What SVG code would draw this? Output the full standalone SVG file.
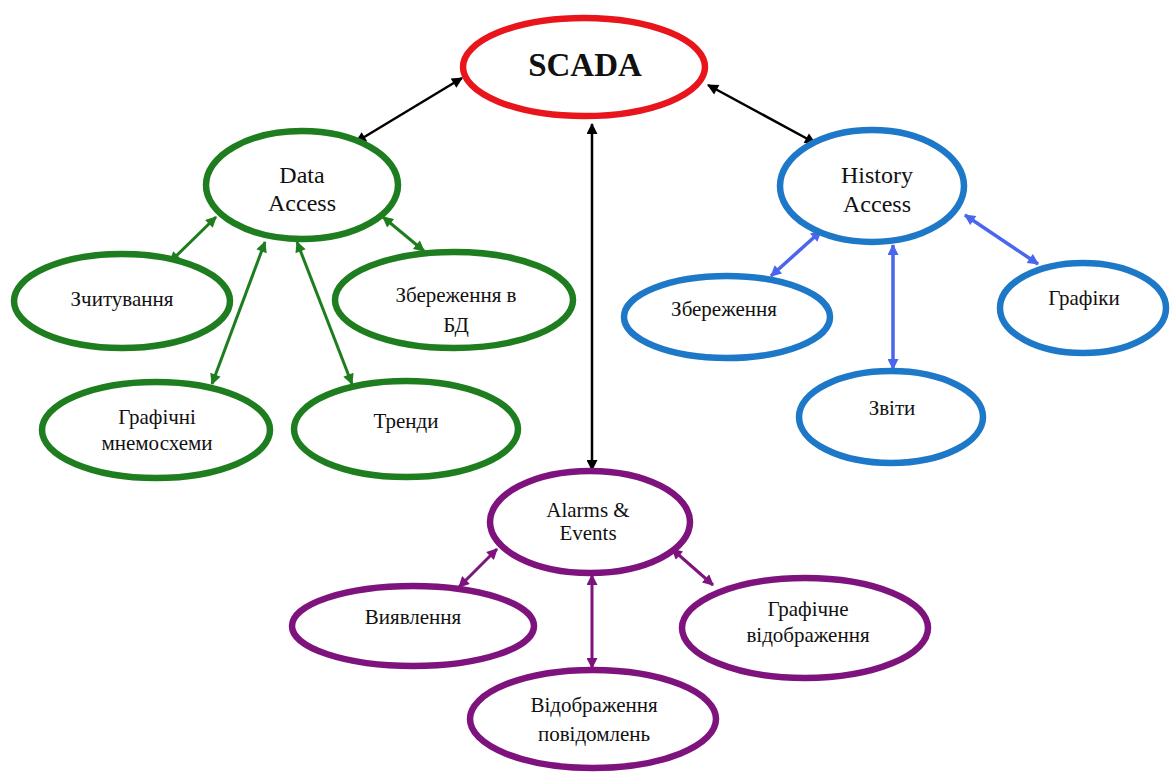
<svg xmlns="http://www.w3.org/2000/svg" width="1171" height="774" viewBox="0 0 1171 774">
<defs>
<style>
text{font-family:"Liberation Serif","Times New Roman",serif;fill:#111;text-anchor:middle}
.t{font-size:21px}
.m{font-size:24px}
.big{font-size:33px;font-weight:bold}
ellipse{fill:#fff}
.red{stroke:#e8161c;stroke-width:6.5}
.green{stroke:#1e7d1e;stroke-width:6.5}
.blue{stroke:#1e78c8;stroke-width:6.5}
.purple{stroke:#7e137e;stroke-width:6.5}
.ck{stroke:#000;stroke-width:2.5;fill:none}
.cg{stroke:#1e7d1e;stroke-width:3;fill:none}
.cb{stroke:#4a66ee;stroke-width:3.5;fill:none}
.cp{stroke:#7e137e;stroke-width:3;fill:none}
</style>
<marker id="ak" viewBox="0 0 10 10" refX="9" refY="5" markerWidth="13" markerHeight="11" markerUnits="userSpaceOnUse" orient="auto-start-reverse"><path d="M0,0L10,5L0,10z" fill="#000"/></marker>
<marker id="ag" viewBox="0 0 10 10" refX="9" refY="5" markerWidth="13" markerHeight="11" markerUnits="userSpaceOnUse" orient="auto-start-reverse"><path d="M0,0L10,5L0,10z" fill="#1e7d1e"/></marker>
<marker id="ab" viewBox="0 0 10 10" refX="9" refY="5" markerWidth="13" markerHeight="11" markerUnits="userSpaceOnUse" orient="auto-start-reverse"><path d="M0,0L10,5L0,10z" fill="#4a66ee"/></marker>
<marker id="ap" viewBox="0 0 10 10" refX="9" refY="5" markerWidth="13" markerHeight="11" markerUnits="userSpaceOnUse" orient="auto-start-reverse"><path d="M0,0L10,5L0,10z" fill="#7e137e"/></marker>
</defs>
<rect width="1171" height="774" fill="#fff"/>
<g id="connectors">
<line class="ck" x1="462" y1="78" x2="356" y2="142" marker-start="url(#ak)" marker-end="url(#ak)"/>
<line class="ck" x1="708" y1="85" x2="815" y2="143" marker-start="url(#ak)" marker-end="url(#ak)"/>
<line class="ck" x1="592" y1="124" x2="592" y2="470" marker-start="url(#ak)" marker-end="url(#ak)"/>
<line class="cg" x1="216" y1="217" x2="170" y2="262" marker-start="url(#ag)" marker-end="url(#ag)"/>
<line class="cg" x1="383" y1="217" x2="424" y2="251" marker-start="url(#ag)" marker-end="url(#ag)"/>
<line class="cg" x1="265" y1="242" x2="212" y2="384" marker-start="url(#ag)" marker-end="url(#ag)"/>
<line class="cg" x1="297" y1="242" x2="352" y2="384" marker-start="url(#ag)" marker-end="url(#ag)"/>
<line class="cb" x1="821" y1="231" x2="771" y2="276" marker-start="url(#ab)" marker-end="url(#ab)"/>
<line class="cb" x1="893" y1="245" x2="893" y2="369" marker-start="url(#ab)" marker-end="url(#ab)"/>
<line class="cb" x1="965" y1="215" x2="1038" y2="264" marker-start="url(#ab)" marker-end="url(#ab)"/>
<line class="cp" x1="497" y1="549" x2="459" y2="587" marker-start="url(#ap)" marker-end="url(#ap)"/>
<line class="cp" x1="592" y1="575" x2="592" y2="668" marker-start="url(#ap)" marker-end="url(#ap)"/>
<line class="cp" x1="672" y1="549" x2="713" y2="585" marker-start="url(#ap)" marker-end="url(#ap)"/>
</g>
<g id="scada"><ellipse class="red" cx="584" cy="67" rx="121" ry="49"/><text class="big" x="585" y="76">SCADA</text></g>
<g id="data-access"><ellipse class="green" cx="302" cy="185" rx="96" ry="54"/><text class="m" x="302" y="183">Data</text><text class="m" x="302" y="211">Access</text></g>
<g id="zchytuvannia"><ellipse class="green" cx="122" cy="301" rx="108" ry="47"/><text class="t" x="122" y="306">Зчитування</text></g>
<g id="zberezhennia-bd"><ellipse class="green" cx="454" cy="300" rx="119" ry="48"/><text class="t" x="456" y="302">Збереження  в</text><text class="t" x="456" y="332">БД</text></g>
<g id="hrafichni"><ellipse class="green" cx="156" cy="430" rx="114" ry="48"/><text class="t" x="157" y="424">Графічні</text><text class="t" x="157" y="450">мнемосхеми</text></g>
<g id="trendy"><ellipse class="green" cx="406" cy="429" rx="112" ry="48"/><text class="t" x="406" y="428">Тренди</text></g>
<g id="history-access"><ellipse class="blue" cx="872" cy="186" rx="92" ry="56"/><text class="m" x="877" y="183">History</text><text class="m" x="877" y="212">Access</text></g>
<g id="zberezhennia"><ellipse class="blue" cx="727" cy="317" rx="103" ry="41"/><text class="t" x="724" y="316">Збереження</text></g>
<g id="zvity"><ellipse class="blue" cx="891" cy="417" rx="92" ry="46"/><text class="t" x="892" y="415">Звіти</text></g>
<g id="hrafiky"><ellipse class="blue" cx="1083" cy="308" rx="83" ry="45"/><text class="t" x="1084" y="305">Графіки</text></g>
<g id="alarms-events"><ellipse class="purple" cx="590" cy="522" rx="100" ry="51"/><text class="t" x="588" y="517">Alarms &amp;</text><text class="t" x="588" y="540">Events</text></g>
<g id="vyiavlennia"><ellipse class="purple" cx="413" cy="626" rx="121" ry="40"/><text class="t" x="413" y="624">Виявлення</text></g>
<g id="hrafichne"><ellipse class="purple" cx="805" cy="628" rx="123" ry="50"/><text class="t" x="808" y="616">Графічне</text><text class="t" x="808" y="642">відображення</text></g>
<g id="vidobrazhennia"><ellipse class="purple" cx="593" cy="719" rx="123" ry="49"/><text class="t" x="594" y="712">Відображення</text><text class="t" x="594" y="741">повідомлень</text></g>
</svg>
